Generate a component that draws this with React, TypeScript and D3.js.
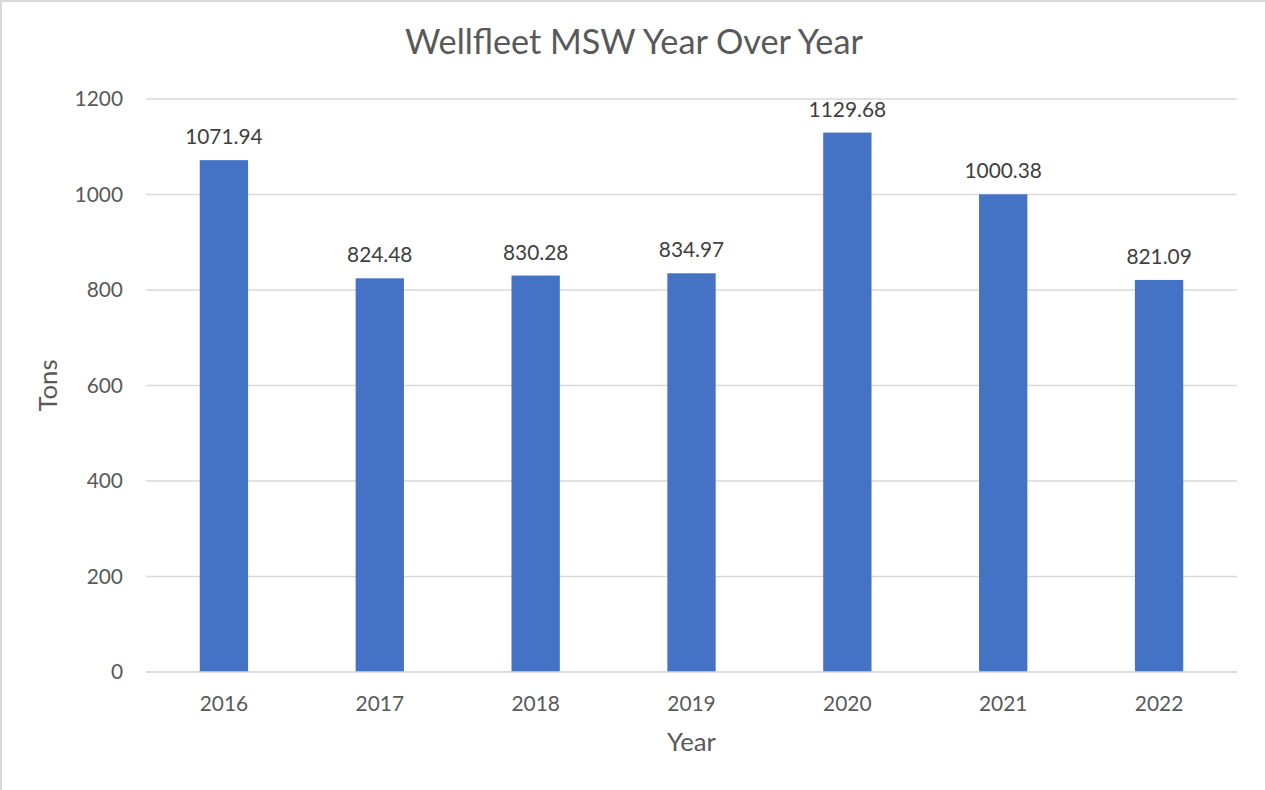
import React, { useLayoutEffect, useRef, useState } from "react";
import * as d3 from "d3";

const years = ["2016", "2017", "2018", "2019", "2020", "2021", "2022"];
const tons = [1071.94, 824.48, 830.28, 834.97, 1129.68, 1000.38, 821.09];
const yTicks = [0, 200, 400, 600, 800, 1000, 1200];
const title = "Wellfleet MSW Year Over Year";
const xTitle = "Year";
const yTitle = "Tons";

const W = 1265, H = 790;
const M = { left: 146, right: 1237, top: 99, bottom: 672 };
const FONT = "Lato, 'Open Sans', sans-serif";
const TXT = "#595959";

// target rendered widths (px) of reference strings, used to size the fonts
const TARGET = { title: 458, tick: 48.5, label: 77.5, axis: 49 };
const BASE = { title: 30, tick: 20, label: 20, axis: 22 };

export default function App() {
  const refTitle = useRef<SVGTextElement>(null);
  const refTick = useRef<SVGTextElement>(null);
  const refLabel = useRef<SVGTextElement>(null);
  const refAxis = useRef<SVGTextElement>(null);
  const [fs, setFs] = useState(BASE);

  useLayoutEffect(() => {
    const m = (r: React.RefObject<SVGTextElement>, base: number, target: number) => {
      const w = r.current ? r.current.getComputedTextLength() : 0;
      return w > 0 ? (base * target) / w : base;
    };
    setFs({
      title: m(refTitle, BASE.title, TARGET.title),
      tick: m(refTick, BASE.tick, TARGET.tick),
      label: m(refLabel, BASE.label, TARGET.label),
      axis: m(refAxis, BASE.axis, TARGET.axis),
    });
  }, []);

  const x = d3.scaleBand().domain(years).range([M.left, M.right]).paddingInner(0.69).paddingOuter(0.345);
  const y = d3.scaleLinear().domain([0, 1200]).range([M.bottom, M.top]);
  return (
    <div style={{ position: "fixed", left: 0, top: 0 }}>
      <svg width={W} height={H} style={{ display: "block", fontFamily: FONT }}>
        <rect x={0} y={0} width={W} height={H} fill="#fff" />
        <rect x={1} y={1} width={W + 10} height={H + 10} fill="none" stroke="#d9d9d9" strokeWidth={2} />
        <g visibility="hidden">
          <text ref={refTitle} fontSize={BASE.title}>{title}</text>
          <text ref={refTick} fontSize={BASE.tick}>1200</text>
          <text ref={refLabel} fontSize={BASE.label}>1071.94</text>
          <text ref={refAxis} fontSize={BASE.axis}>Year</text>
        </g>
        <text x={634} y={54} textAnchor="middle" fontSize={fs.title} fill={TXT}>{title}</text>
        {yTicks.map((t) => (
          <g key={t}>
            <line x1={M.left} x2={M.right} y1={y(t)} y2={y(t)} stroke="#d9d9d9" strokeWidth={1.3} />
            <text x={123} y={y(t)} dy="0.35em" textAnchor="end" fontSize={fs.tick} fill={TXT}>{t}</text>
          </g>
        ))}
        {years.map((yr, i) => (
          <g key={yr}>
            <rect x={x(yr)} y={y(tons[i])} width={x.bandwidth()} height={y(0) - y(tons[i])} fill="#4472C4" />
            <text x={x(yr)! + x.bandwidth() / 2} y={y(tons[i]) - 16} textAnchor="middle" fontSize={fs.label} fill="#404040">{tons[i].toFixed(2)}</text>
            <text x={x(yr)! + x.bandwidth() / 2} y={711} textAnchor="middle" fontSize={fs.tick} fill={TXT}>{yr}</text>
          </g>
        ))}
        <line x1={M.left} x2={M.right} y1={y(0)} y2={y(0)} stroke="#d9d9d9" strokeWidth={1.5} />
        <text x={(M.left + M.right) / 2} y={751} textAnchor="middle" fontSize={fs.axis} fill={TXT}>{xTitle}</text>
        <text transform={`translate(57,${(M.top + M.bottom) / 2}) rotate(-90)`} textAnchor="middle" fontSize={fs.axis} fill={TXT}>{yTitle}</text>
      </svg>
    </div>
  );
}
